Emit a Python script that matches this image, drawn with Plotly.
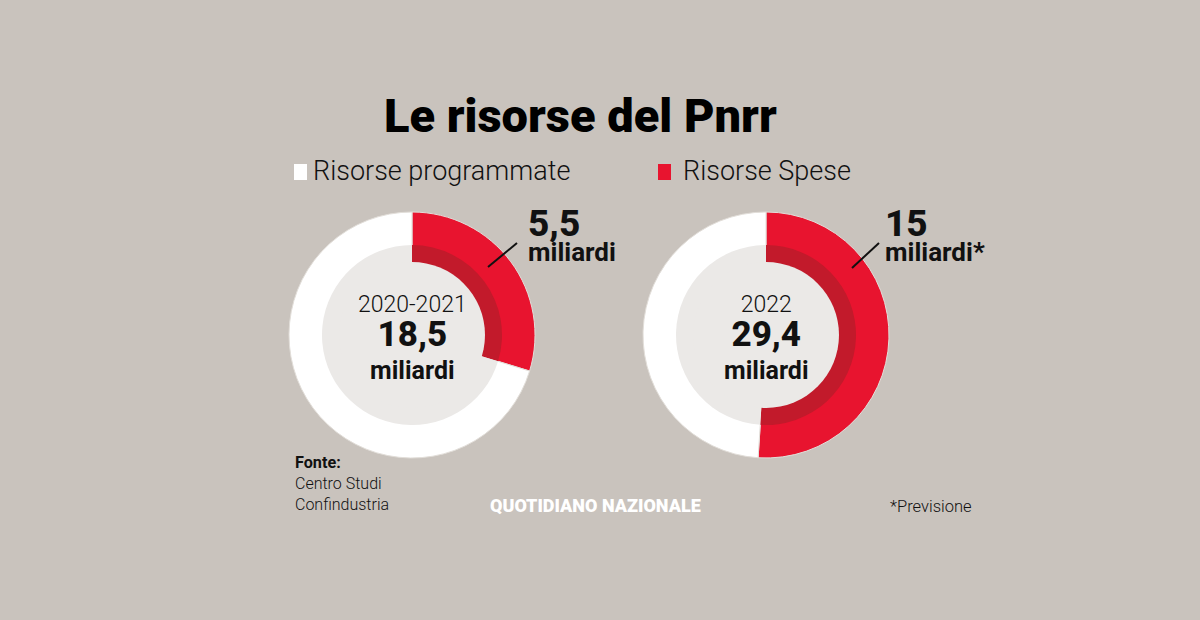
import plotly.graph_objects as go

# ---- data ----
periods = ["2020-2021", "2022"]
totals = [18.5, 29.4]
spent = [5.5, 15.0]
total_labels = ["18,5", "29,4"]
spent_labels = ["5,5", "15"]
spent_units = ["miliardi", "miliardi*"]
series_names = ["Risorse Spese", "Risorse programmate"]

W, H = 1200, 620
BG = "#c9c3bd"
RED = "#e8142f"
DARK_RED = "#c21a2b"
LIGHT = "#ebe9e7"
FONT = "Roboto"
INK = "#111111"


def px(x):
    return x / W


def py(y):
    return 1 - y / H


def domain(cx, cy, r):
    return dict(x=[px(cx - r), px(cx + r)], y=[py(cy + r), py(cy - r)])


def mid(baseline, size):
    # centre of an annotation box whose text baseline sits at `baseline`
    return baseline - 0.37 * size


def mid_block(b_first, s_first, b_last, s_last):
    # centre of a multi-line annotation box, from first/last baselines
    return (b_first - 0.95 * s_first + b_last + 0.21 * s_last) / 2


def span(txt, size, weight):
    return "<span style='font-size:%dpx;font-weight:%d'>%s</span>" % (size, weight, txt)


centers = [(412, 335), (766, 335)]
R_OUT, R_MID, R_IN = 123, 90, 73

fig = go.Figure()
shapes = []
annotations = []

for i, (cx, cy) in enumerate(centers):
    vals = [spent[i], totals[i] - spent[i]]
    fig.add_trace(go.Pie(
        values=vals, labels=series_names, sort=False, direction="clockwise",
        rotation=0, hole=0, textinfo="none", hoverinfo="label+value",
        marker=dict(colors=[RED, "#ffffff"], line=dict(color="#e2ded9", width=1)),
        domain=domain(cx, cy, R_OUT), showlegend=False,
    ))
    fig.add_trace(go.Pie(
        values=vals, labels=series_names, sort=False, direction="clockwise",
        rotation=0, hole=0, textinfo="none", hoverinfo="skip",
        marker=dict(colors=[DARK_RED, LIGHT], line=dict(width=0)),
        domain=domain(cx, cy, R_MID), showlegend=False,
    ))
    shapes.append(dict(type="circle", xref="paper", yref="paper", layer="above",
                       x0=px(cx - R_IN), x1=px(cx + R_IN), y0=py(cy + R_IN), y1=py(cy - R_IN),
                       fillcolor=LIGHT, line=dict(width=0)))
    # centre text block (3 lines, 1.3 x 25.8px line spacing)
    txt = "<br>".join([span(periods[i], 23, 300), span(total_labels[i], 35, 800), span("miliardi", 25, 700)])
    annotations.append(dict(text=txt, x=px(cx), y=py(mid_block(313, 23, 380, 25)), align="center",
                            font=dict(size=25.8, color=INK, family=FONT)))

# spent labels with leader lines (2 lines, 1.3 x 19.4px line spacing)
lab_x = [526, 883]
lab_base1 = [237, 237]
lab_base2 = [262, 262]
lines = [((488, 267), (517, 243)), ((852, 268), (879, 243))]
for i in range(2):
    txt = span(spent_labels[i], 37, 800) + "<br>" + span(spent_units[i], 26, 700)
    annotations.append(dict(text=txt, x=px(lab_x[i]), y=py(mid_block(lab_base1[i], 37, lab_base2[i], 26)),
                            xanchor="left", align="left",
                            font=dict(size=19.4, color=INK, family=FONT)))
    (x0, y0), (x1, y1) = lines[i]
    shapes.append(dict(type="line", xref="paper", yref="paper", x0=px(x0), y0=py(y0), x1=px(x1), y1=py(y1),
                       line=dict(color=INK, width=2)))

# title
annotations.append(dict(text="Le risorse del Pnrr", x=px(580), y=py(mid(133, 47)),
                        font=dict(size=47, color="#000", family=FONT, weight=900)))

# legend (manual)
shapes.append(dict(type="rect", xref="paper", yref="paper", x0=px(294), x1=px(307), y0=py(180), y1=py(164),
                   fillcolor="#ffffff", line=dict(width=0)))
shapes.append(dict(type="rect", xref="paper", yref="paper", x0=px(658), x1=px(671), y0=py(180), y1=py(164),
                   fillcolor=RED, line=dict(width=0)))
annotations.append(dict(text=series_names[1], x=px(311), y=py(mid(181, 27)), xanchor="left",
                        font=dict(size=27, color=INK, family=FONT, weight=300)))
annotations.append(dict(text=series_names[0], x=px(681), y=py(mid(181, 27)), xanchor="left",
                        font=dict(size=27, color=INK, family=FONT, weight=300)))

# footer
annotations.append(dict(text="<b>Fonte:</b><br>" + span("Centro Studi", 16, 300) + "<br>" + span("Confindustria", 16, 300),
                        x=px(293), y=py(483), xanchor="left", align="left",
                        font=dict(size=16.2, color=INK, family=FONT)))
annotations.append(dict(text="QUOTIDIANO NAZIONALE", x=px(595), y=py(505),
                        font=dict(size=18, color="#ffffff", family=FONT, weight=900)))
annotations.append(dict(text="*Previsione", x=px(888), y=py(506), xanchor="left",
                        font=dict(size=16.5, color=INK, family=FONT, weight=300)))

for a in annotations:
    a.setdefault("xref", "paper")
    a.setdefault("yref", "paper")
    a.setdefault("showarrow", False)
    a.setdefault("yanchor", "middle")

fig.update_layout(
    width=W, height=H, margin=dict(l=0, r=0, t=0, b=0),
    paper_bgcolor=BG, plot_bgcolor=BG,
    shapes=shapes, annotations=annotations, showlegend=False,
)

fig.write_html(
    "out.html",
    config={"displayModeBar": False},
    post_script="document.body.style.margin='0';document.body.style.background='%s';" % BG,
)
